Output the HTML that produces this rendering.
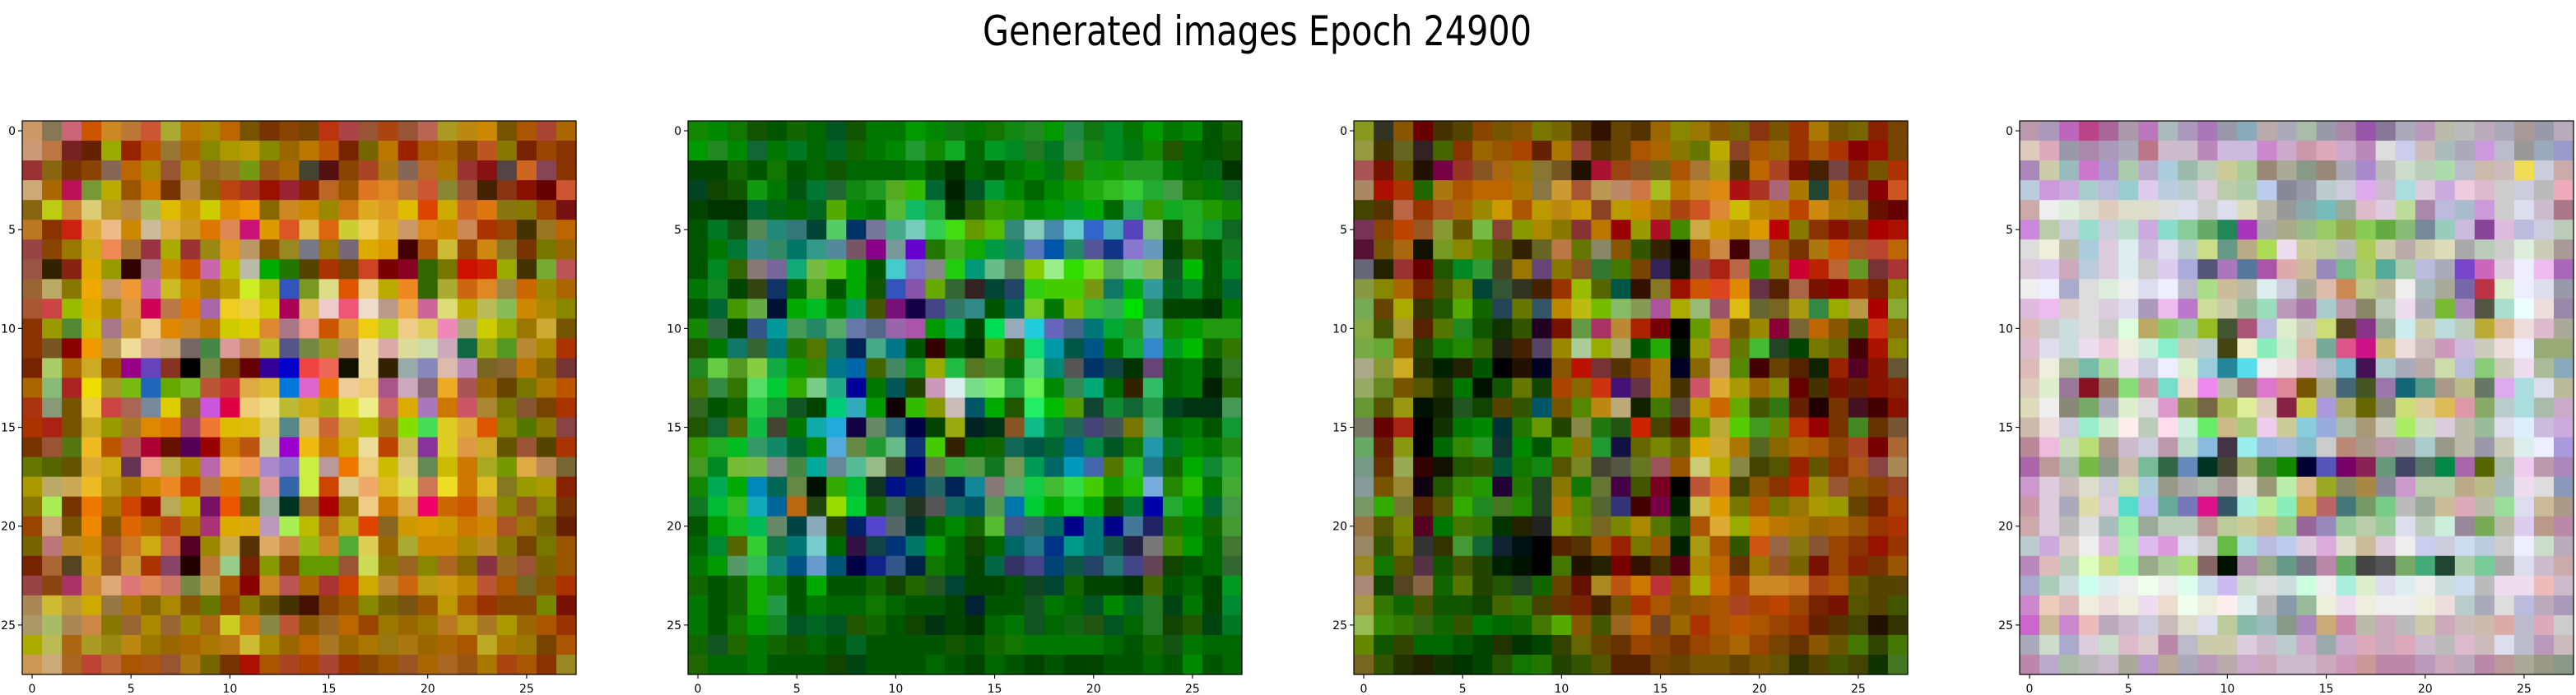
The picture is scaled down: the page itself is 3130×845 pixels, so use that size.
<!DOCTYPE html>
<html><head><meta charset="utf-8"><style>
html,body{margin:0;padding:0;background:#fff;}
svg{display:block;}
text{font-family:"DejaVu Sans","Liberation Sans",sans-serif;fill:#000;}
</style></head><body>
<svg id="fig" xmlns="http://www.w3.org/2000/svg" width="3130" height="845" viewBox="0 0 3130 845">
<rect x="0" y="0" width="3130" height="845" fill="#fff"/>
<text x="1194" y="55" font-size="50" textLength="667" lengthAdjust="spacingAndGlyphs">Generated images Epoch 24900</text>
</svg>
<script>
const tickValues = [0, 5, 10, 15, 20, 25];
const tickLabels = ["0", "5", "10", "15", "20", "25"];
const panel1Rows = [
"c96 875 c67 c50 c82 b73 c53 aa3 b70 a80 b60 750 730 840 740 b31 a44 953 a41 953 b65 a92 b81 c80 750 a50 a43 a60",
"c97 b74 722 620 9a0 920 b50 973 a60 880 a90 b90 880 960 b70 b50 720 760 b70 920 a50 a60 840 b52 870 720 940 830",
"933 861 730 840 865 b60 a80 953 a80 962 972 791 951 a60 443 511 840 a42 a71 865 b62 a70 933 811 544 c62 845 830",
"ca7 a60 b15 793 ba0 950 c70 730 b84 860 b41 a32 910 923 820 b62 950 d72 d82 b73 c53 883 953 420 831 810 600 c53",
"861 bc1 c83 dc7 b92 b84 ab5 db0 c90 cc0 d80 e90 860 c82 c80 980 c71 da2 d92 db0 d40 ca0 c62 d71 871 870 940 711",
"b72 830 c21 da3 eb8 c80 cb9 da4 c92 d70 d85 c17 d90 d52 db4 d61 cc3 ec5 da2 c96 d81 c80 c85 a30 940 430 972 b60",
"944 840 970 ca1 e85 a73 934 aa0 933 981 d92 b96 850 982 778 970 767 da0 d90 400 a50 cb3 940 c81 872 730 770 960",
"954 320 821 da0 990 300 a78 c80 c50 c6a bb0 bba 0a0 270 540 a30 740 c42 700 802 360 770 c10 c20 9a0 430 7a3 b55",
"963 ba6 870 ea0 c96 e93 c6a cb2 c80 a70 b90 ce2 ab0 35b 792 dd8 d50 ec7 ba0 e82 360 aa3 c61 d82 984 c60 980 a60",
"a53 c44 9b0 da0 a80 d94 c05 b74 d70 a6a ec2 ec4 cc0 a05 db5 ecc e57 edc b98 ea4 c69 dd7 ba0 bb5 8b5 c80 a80 880",
"830 990 583 cb0 a78 c93 ec8 d80 c82 b70 cc0 dc0 d83 a78 e98 c50 d93 ec1 bc2 ec8 dc5 e8b aa7 cc0 9a0 970 ca3 750",
"830 752 800 e90 b95 ed9 da8 ca7 766 484 d99 c85 bb2 558 784 992 b85 ed9 daa dd9 cda cab 164 9a1 592 b83 a80 a30",
"720 ac6 a60 ca2 950 908 64b 832 000 784 740 600 309 00c e44 e65 110 ed9 320 9aa 88b dba b8b 762 863 b70 860 733",
"a60 8b7 a22 ed0 a92 7b1 26b 6a0 7b2 b53 c33 da4 db3 07d d6c e70 ec9 ec7 a58 cab 867 ea2 a55 960 640 770 a70 b50",
"a31 897 750 ec4 c44 a65 789 dc0 862 c5d d04 ec7 ed8 bb3 ca1 aa1 dd2 ee8 c66 da0 a7b c70 c56 a83 770 853 740 a30",
"a30 a21 750 ca2 990 a72 d80 d70 a46 e73 db0 db1 dc6 588 db6 c63 ca3 bb0 a71 8d0 4d5 dc2 da3 d50 880 570 870 844",
"730 953 571 eb2 b50 b55 a03 610 505 900 c70 b51 cc8 90c eb1 c70 ca0 ed9 b40 cb5 839 dc2 d94 ca2 650 953 540 a30",
"670 560 650 da3 ca1 635 e98 ba4 a80 b6a ea4 e95 a8c 87c ce4 b99 e70 ec7 cb0 dc7 685 cb0 c70 aa2 790 da4 b85 763",
"a90 ba6 ca5 eb2 b91 a70 c80 e82 c40 b74 d70 992 d99 36a ce4 c40 dc8 ea6 db2 dd5 c75 ed2 c70 db2 872 990 a90 820",
"870 ae5 730 e70 a70 c40 910 ba5 ba0 716 e50 660 9a9 032 962 a00 970 ec8 c70 da4 e06 c60 c50 c83 880 952 880 730",
"940 ca7 750 e80 850 d60 b60 b41 a70 a37 da0 da1 b9b ae5 bb0 b61 ba1 d40 862 c90 d90 c90 c70 c80 a52 970 760 620",
"760 b77 b82 c80 a52 c72 ca1 c64 502 980 ca4 530 da6 c84 9b1 c82 5a3 dc5 960 aa3 c80 c80 a80 b82 870 740 770 950",
"720 a63 542 c91 952 c93 a30 846 200 b73 9c8 720 890 840 690 690 953 cd5 870 962 880 a62 860 834 962 953 760 950",
"944 841 a36 c83 da7 d77 d85 c76 784 b94 a50 800 c82 b55 a60 a33 c40 ca0 b83 c61 b91 c91 b80 b53 a50 762 850 a30",
"a85 cb3 b93 ca0 974 a70 860 a80 850 670 940 870 650 430 410 840 950 880 760 751 950 b90 a50 930 840 840 780 710",
"a96 ab6 a85 c84 870 963 a80 963 980 a61 cc2 c71 884 b53 850 962 b60 940 970 960 970 b72 b91 a72 a90 960 a50 930",
"aa0 bb5 a61 a92 981 b81 970 960 a60 a70 b71 cb3 a80 960 b60 a72 960 a70 971 a71 960 a60 a50 ba2 a70 970 740 a50",
"c95 ca7 a62 b43 b63 a50 a51 953 a71 760 730 a10 a50 a42 a40 a43 930 840 950 952 a60 a62 951 a70 a41 a50 830 982"
];
const panel2Rows = [
"180 080 170 150 050 160 060 052 150 070 070 090 080 171 070 170 181 282 090 284 171 082 070 090 070 080 050 160",
"090 282 080 163 070 072 060 062 160 070 080 293 180 1a2 060 092 082 272 072 384 181 082 071 180 250 060 050 150",
"040 040 160 050 170 050 060 150 060 060 060 070 050 030 060 050 070 080 071 370 191 190 292 292 070 060 061 030",
"042 140 150 191 070 051 073 263 181 292 5a2 3b0 063 020 052 093 080 060 080 190 2a1 3b2 3c3 2a3 494 170 070 162",
"040 030 030 063 061 060 062 5a0 080 070 5b3 1b6 2a3 030 260 390 290 080 090 092 0a0 060 2a5 390 1a2 2a2 290 180",
"050 072 151 585 287 377 043 5c6 036 779 4a8 7cb 3c5 4d1 690 5b0 387 8cb 48a 6cc 36c 4ab 54b 7b7 150 2a2 193 162",
"050 070 073 388 386 076 398 589 756 808 799 60c 270 4a2 1a0 094 186 57b 05a 286 559 138 87c 69b 040 260 050 172",
"050 082 360 877 769 1a7 7b4 5c1 0a0 050 4cc 77c 888 2c1 097 6b8 585 8c0 9e8 3d0 7d2 5a5 6c7 8b5 152 0b0 050 082",
"070 182 040 341 136 060 5a2 050 0a0 150 35b 85a 6a0 363 322 043 246 3c1 4c0 4c0 791 176 0a1 399 062 082 050 063",
"050 063 490 6a4 013 0a0 0b2 080 095 450 717 104 448 376 388 050 065 7c2 070 7b0 3b3 3a5 0d0 285 040 040 030 070",
"180 364 040 358 099 495 286 5a6 67a 568 96a a5a 090 0a5 040 0d5 9ab 2cd 66b 468 077 0a3 292 4aa 180 090 291 291",
"250 070 176 363 077 270 570 176 025 4a8 078 050 300 050 030 5a0 350 1d7 09a 054 058 070 1a3 38c 092 0b0 160 370",
"282 6c4 592 8c4 1a4 190 380 078 06a 460 486 192 9a0 2b4 572 482 060 5d7 087 555 036 144 030 647 060 070 040 372",
"470 384 370 5d6 0c3 3a0 7c8 2a8 009 070 055 240 c9b dee 7d8 7e6 2a4 6e5 080 385 0a7 060 320 3b6 060 070 020 260",
"362 050 160 2c4 193 152 040 0c7 3ab 090 100 3b0 890 cbb 056 0a0 250 2e6 0b0 590 143 183 163 294 042 031 031 495",
"250 163 560 1b4 443 070 1aa 2ad 104 686 267 004 040 9a1 022 031 852 1b8 083 265 447 455 770 4a6 060 070 050 193",
"390 2a2 0b2 396 186 063 080 5ad 684 293 6b8 137 4c0 320 060 160 165 054 063 068 084 052 170 29a 072 080 070 281",
"492 082 7b3 7b4 888 484 0a9 689 5b9 9b8 453 007 674 3a3 594 172 795 095 066 09b 46a 570 2b2 278 160 0a0 183 3a3",
"180 0a5 0a0 08b 065 684 010 3a0 0b3 132 018 036 266 025 189 877 5a6 1c4 4b3 3d4 4c0 190 2b0 7ad 280 2b0 070 4a3",
"172 0b3 3b2 1ab 069 b61 241 9d0 0c3 160 365 232 555 166 056 595 07a 0c3 0a0 1c2 0a0 150 073 00a 2a3 0a0 063 494",
"050 090 1b2 0b5 686 044 8ab 240 026 54c 566 033 060 080 160 5b3 458 366 066 008 077 008 479 226 270 080 160 493",
"060 083 560 3c3 174 077 7cc 060 314 144 037 076 090 060 140 060 066 278 038 098 077 154 224 777 480 090 060 473",
"070 090 596 3b5 187 058 69c 057 004 128 358 024 170 060 040 064 336 448 047 154 246 277 448 645 140 050 060 363",
"160 050 160 1a0 180 050 0a0 050 050 160 140 260 252 043 040 040 050 142 043 160 040 040 030 460 050 060 040 092",
"070 050 160 1a0 294 050 070 060 060 170 060 050 050 040 023 050 050 152 070 060 052 080 062 272 041 070 040 083",
"070 050 170 090 182 052 062 052 250 160 050 140 031 040 030 060 070 152 060 161 251 052 060 272 140 250 041 072",
"160 152 260 070 160 150 060 050 062 050 050 050 050 150 050 160 170 070 070 070 070 060 050 160 151 070 060 060",
"260 060 060 070 050 050 050 140 041 050 050 050 060 050 040 060 050 040 050 040 040 050 050 060 050 080 050 060"
];
const panel3Rows = [
"892 332 850 600 430 540 840 750 850 770 760 530 310 640 530 960 880 970 850 760 831 750 930 a70 750 760 820 740",
"994 430 662 322 460 830 960 950 a40 620 a70 943 530 640 a50 a60 870 670 ba0 842 a50 960 930 a50 a30 800 910 740",
"a55 710 650 210 704 932 852 a61 970 873 752 210 a13 941 852 761 a50 a73 a91 530 b60 a42 710 420 744 820 750 a30",
"a86 a10 a30 260 a71 a50 b60 b60 a70 874 c93 a53 b95 b86 c74 ab2 b70 c82 d81 a11 a32 a67 a70 243 a60 743 800 c52",
"440 530 b64 930 a52 a60 980 c90 a50 b90 b81 c90 842 b90 c80 a70 a41 c52 d83 cb0 b80 b70 b40 c81 a70 970 610 600",
"735 840 b40 952 893 650 7b4 843 890 a80 870 833 b70 900 990 a12 480 ca4 c90 b80 d90 b00 870 830 810 730 a00 a10",
"513 750 a61 110 792 880 580 550 320 662 b74 670 886 850 350 320 100 a50 c84 400 977 950 730 a71 c50 a52 b43 b60",
"667 220 933 600 250 082 393 442 970 647 870 852 373 470 740 325 110 944 a21 b64 380 870 c03 b20 b63 692 733 a33",
"894 880 a60 720 450 680 043 353 332 420 930 9b0 560 054 310 872 910 c50 d42 d80 634 520 a64 710 800 930 720 880",
"7a5 640 aa0 330 250 5a0 160 245 670 356 b80 bb1 7b0 8b6 895 a59 aa0 9b7 956 db1 663 762 a91 384 9a0 b94 a00 8a3",
"8a4 450 a93 520 570 282 150 130 350 202 710 694 a36 b83 a20 700 000 690 c82 750 980 803 763 b60 850 450 c31 860",
"7a4 6a3 960 240 170 280 360 221 420 546 980 ac9 9a0 aa6 050 2a0 010 990 c55 670 4b3 242 040 770 660 400 a10 880",
"aa8 893 ca2 230 020 220 050 000 210 002 850 b10 733 530 840 a70 002 860 c96 580 400 640 520 120 920 502 810 653",
"9a6 682 750 550 230 070 010 150 670 140 a40 860 c31 417 634 a70 430 c56 da3 a90 960 880 600 430 710 620 810 820",
"693 550 991 010 120 252 140 540 350 056 750 580 b81 ba7 120 470 543 b90 c60 6a0 450 371 620 200 730 412 400 810",
"776 600 a21 000 130 070 080 033 270 690 240 884 271 251 c20 440 610 690 ba3 5c0 492 680 b30 900 730 482 630 753",
"6a6 620 891 000 060 380 292 133 080 050 490 870 293 114 660 780 660 da0 ca3 a70 562 860 a60 a50 840 a42 700 a63",
"798 630 9a5 300 110 250 350 053 170 181 550 782 443 554 672 955 950 cc7 ba0 884 440 550 920 650 830 a51 844 a85",
"899 750 983 101 250 380 290 203 270 242 870 170 673 404 450 702 000 b53 d72 440 850 830 b20 980 953 850 840 942",
"796 3a0 773 520 550 3a0 282 472 280 242 a70 580 563 337 400 704 020 cb4 d90 770 a50 770 970 a90 990 640 720 a40",
"974 550 780 502 070 470 370 030 220 222 890 680 762 780 a80 570 250 a50 da3 9a0 c80 b70 a70 960 a60 950 930 a30",
"986 350 770 333 330 493 163 123 011 000 520 530 950 920 770 950 020 a91 a50 350 c51 964 871 853 940 830 910 930",
"982 170 550 534 150 450 240 020 010 000 470 210 220 700 310 430 501 a80 b60 630 970 952 760 710 940 820 730 950",
"a87 140 542 864 160 570 240 250 242 160 640 610 a82 b51 c70 b33 950 aa0 c60 a40 c82 c82 c72 a41 a50 650 540 540",
"a94 370 160 450 150 150 140 460 370 440 630 720 420 750 a30 a50 850 950 a50 a42 a40 b40 940 720 710 550 540 450",
"9b5 380 370 361 160 350 070 060 160 470 5a0 850 450 962 b60 742 960 a30 a50 b50 a50 940 930 620 530 440 210 330",
"680 150 340 060 060 050 040 230 030 040 340 660 640 630 940 840 730 940 950 a60 940 740 630 850 650 470 340 470",
"762 350 230 220 130 030 040 250 170 270 240 350 550 520 520 740 640 750 750 640 750 650 330 540 450 440 130 472"
];
const panel4Rows = [
"b9a a9b b6b b48 a69 a9a b7b abb a9b a7b 99a 8ab baa aab aba 99a a8a 95a 879 aab b9b bba bbb bab aab a99 99a bab",
"dcb dab 99a a8a a9b aab b78 cbc cbc b8b cbd cbd c8c cac c9a dab cac b8b ddd cce cbb abb aab c9d bbc 999 9ab 99c",
"a8b cca 9bb c7c a9c aca bac acd 9ba bcb cc9 ac9 987 aa9 898 987 aab a8c bbb cdc bcb ada bbc cba cbb ed5 ccd caa",
"bcd c9d cad acc bbd 9cc dce bcd bcc dcd bca aca bce 889 99a bcc ccd dae cbc add dcd cad ecd dbc ccc ccd bbb eab",
"caa eee ded ddc dcb ddc ddc ddd dde ccc dde ddb bba 999 8aa 7bb 9a9 dbc dcd bd9 a8a bbd abc c9d ccc dde cbc a78",
"c8d bca ccd 9dc ccd bdc cad 8dc 8c9 6a6 285 a3b aaa aa8 9b8 9c6 9a5 8c5 6a4 8b7 789 9cb cbd 849 dbd bbd ccd bcb",
"ddd eed bba acd dcd dee cbd dde bcc cd8 698 ba8 ad5 ede cc9 bc9 bbb ac5 cca baa cca ddb aaa bcb ccc ded ccb a99",
"dcd dce cab bcd dcd dee ccc dce aad 557 a7b 579 a5a daa cb9 98b 7b8 ac6 5a9 aca bbd aab 74c c6b dcd eef ebe a6b",
"eee eef aac ddd ded eee dde eef bbc ad8 cb9 bba dee ccd aa9 dba c85 bc8 bb9 eee abb aa9 76a b34 dec eef dde 99a",
"dbd ebe dcc ddd dcd dde a9b ebe b7c cd9 cca 9b9 9db b9b a7a acc b9a 886 bcb ede aab 7b3 a8b 554 adc eff edd 98a",
"dbb ccc cdd ddd ccc dfd ba6 8c6 9c9 9b2 453 a57 bbd dec ccb cd7 542 838 9a9 cee cca bdd bcb ba3 db9 edd dbc aa9",
"dbc dde cdd ede ecd eed ced 8ec ccb bcc 441 eec 8eb cec dba 7a9 d58 c18 cb7 edd cbb c9b cbd ccb edd eef 9a7 9a7",
"dbb eed ab9 7ba ad9 ede ccd eef dec 9cd 289 5de eee edd dbc bbc 7bc 415 acc aab baa cda bbd 8c7 ccb ede ab9 8ab",
"dcb dec 979 812 976 8d7 c9a 7dc edc e8e bba 977 d7c d89 750 aa8 467 452 97a 167 598 a98 bb8 676 dae add dde bb9",
"ddb eee 887 7a6 aab dec ddd d9c 894 764 ab5 de9 dcb 824 cc4 a9d aa6 660 887 cd7 dc9 db5 d9a 8a6 bcc add aba cac",
"cba edd ccd 9ec cec fee bcb fde ced 6e6 cb8 ac7 ece cc9 8cd 9ad aba a97 ccb ae6 cdb dcd bba 9b9 dde def cbd cad",
"b89 ebd cdb bd7 a98 cbc ccd b9a bdc 8bd 434 9ee 9bd abd 8bc ccc b87 a98 b9a aaa acc 998 bba 99a ccb dee eef a9d",
"a6a b99 aba 7b4 898 cba 7b9 364 68b 032 443 9a6 483 180 003 55b 706 825 697 446 576 084 a6a 560 aba ece b9a a8b",
"c9c dcd cbb ddc ccd cda acd 998 aaa aba a99 ddc 997 bea db8 9a2 886 a84 889 c9c bca bca ba8 bb8 abb ede ddd 89b",
"c9a dcd aab dda dcd 5dc bbe 6a9 77b d18 356 aed be9 8eb ca4 b66 477 796 7c8 bbb 9a9 cb9 dab bba 9d9 dde cb9 a98",
"caa dcd bbb ddd abb 9ea 9a9 bcb bcb b99 bc9 cc9 cb8 9c8 969 98b 9c9 bca 9c9 dde bcb ced 989 7a5 bba dce b98 b8a",
"bcc cad dcc eee dbd aea dbe d9d dde ccc 6b4 add bbd bce dcd dad ddc cb9 dcd eee cce ccd cde bcd ccc eef cdc bab",
"b8b dbb bcb dfb cd8 9e9 9a8 ac9 ad7 866 010 a8a 9a8 698 778 b8a 6a6 444 555 7a6 4a7 243 aca 7c9 aaa dde cbc caa",
"aac acb cdd cfe dee eee efe eee dfe cde cbe cdc ddd cdd cfd eee aed dec dde dee eee cdd cde bbb ede ede ebb cbc",
"c8c ecb dbb eed edd eed ede edc efe eed fee dee bbb 89a 9b9 eed ede eed eee eee eed edd bcc aab ddd bbd bab a9b",
"c6c cb9 c8c ebb bab cbc ccd cbb ddc dde bc9 8ba 9bb 898 a8b ca7 c8a bba cab bbb cca cab cbb cba daa bbc dab ccc",
"aab cdc aac dcd cdc dbc dcc b8a bbc cca cca dcd cbc bcc cac 9aa cac dab cab dab cbc bbb dbc cbb dde bbc b9b cbb",
"b8a bac aba bbb cbc aa9 b9c ba9 aab b9b baa cac cab cbc cbc cab c9b c99 b8a b8a b9b cab bab b8a b99 aa9 998 898"
];
const panels = [panel1Rows, panel2Rows, panel3Rows, panel4Rows];

const NS = "http://www.w3.org/2000/svg";
const svg = document.getElementById('fig');
const PANEL_LEFTS = [27, 836, 1645, 2454];
const PANEL_TOP = 147;
const PANEL_SIZE = 673;
const NCELLS = 28;

function mk(tag, attrs) {
  const e = document.createElementNS(NS, tag);
  for (const k in attrs) e.setAttribute(k, attrs[k]);
  return e;
}

panels.forEach((rows, p) => {
  const left = PANEL_LEFTS[p];
  const cell = PANEL_SIZE / NCELLS;
  const xScale = i => left + i * cell;
  const yScale = j => PANEL_TOP + j * cell;
  const g = mk('g', {});
  
  
  svg.appendChild(g);
  rows.forEach((row, j) => {
    row.split(' ').forEach((c, i) => {
      const r = mk('rect', {x: xScale(i).toFixed(2), y: yScale(j).toFixed(2), width: (cell + 0.6).toFixed(2), height: (cell + 0.6).toFixed(2), fill: '#' + c});
      
      
      g.appendChild(r);
    });
  });
  const frame = mk('rect', {x: left, y: PANEL_TOP, width: PANEL_SIZE, height: PANEL_SIZE, fill: 'none', stroke: '#000', 'stroke-width': 1.2});
  
  
  g.appendChild(frame);
  tickValues.forEach((v, k) => {
    const cx = xScale(v) + cell / 2;
    const cy = yScale(v) + cell / 2;
    const bottom = PANEL_TOP + PANEL_SIZE;
    const xt = mk('line', {x1: cx, x2: cx, y1: bottom, y2: bottom + 5, stroke: '#000', 'stroke-width': 1.1});
    
    
    g.appendChild(xt);
    const xl = mk('text', {x: cx, y: bottom + 22, 'font-size': 14, 'text-anchor': 'middle'});
    xl.textContent = tickLabels[k];
    
    
    g.appendChild(xl);
    const yt = mk('line', {x1: left - 5, x2: left, y1: cy, y2: cy, stroke: '#000', 'stroke-width': 1.1});
    
    
    g.appendChild(yt);
    const yl = mk('text', {x: left - 8, y: cy + 5, 'font-size': 14, 'text-anchor': 'end'});
    yl.textContent = tickLabels[k];
    
    
    g.appendChild(yl);
  });
});
</script>
</body></html>
